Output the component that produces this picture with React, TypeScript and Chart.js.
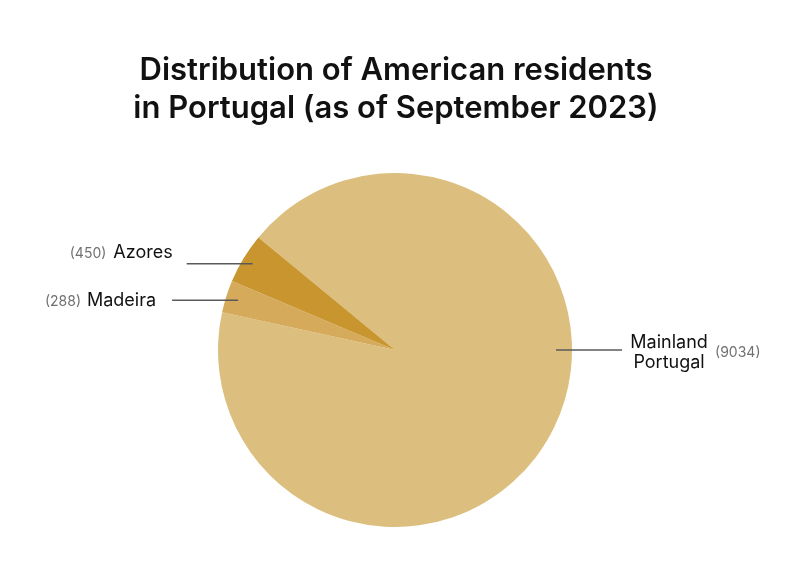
import React, { useEffect, useRef } from "react";
import { Chart, registerables } from "chart.js";

Chart.register(...registerables);

const categories = ["Mainland Portugal", "Madeira", "Azores"];
const residents = [9034, 288, 450];
const sliceColors = ["#DCBF7E", "#D5AB5B", "#C8952F"];
const titleLines = ["Distribution of American residents", "in Portugal (as of September 2023)"];

export default function App() {
  const ref = useRef<HTMLCanvasElement | null>(null);
  useEffect(() => {
    if (!ref.current) return;
    const labelPlugin = {
      id: "labels",
      afterDraw(chart: any) {
        const ctx = chart.ctx;
        ctx.save();
        // Title
        ctx.fillStyle = "#111111";
        ctx.font = "600 31px Inter";
        ctx.textAlign = "center";
        ctx.textBaseline = "alphabetic";
        ctx.fillText(titleLines[0], 396, 80);
        ctx.fillText(titleLines[1], 396, 118);

        const meta = chart.getDatasetMeta(0);
        const arc0 = meta.data[0];
        const cx = arc0.x, cy = arc0.y, r = arc0.outerRadius;
        const pt = (deg: number, f: number) => {
          const a = (deg * Math.PI) / 180;
          return [cx + Math.cos(a) * r * f, cy + Math.sin(a) * r * f];
        };
        const mid = (i: number) => {
          const el = meta.data[i];
          return ((el.startAngle + el.endAngle) / 2) * 180 / Math.PI;
        };
        ctx.strokeStyle = "#5a5a5a";
        ctx.lineWidth = 1.5;
        const drawLine = (x1: number, y1: number, x2: number) => {
          ctx.beginPath();
          ctx.moveTo(x1, y1);
          ctx.lineTo(x2, y1);
          ctx.stroke();
        };
        // Azores (index 2)
        const [ax, ay] = pt(mid(2), 0.94);
        drawLine(ax, ay, ax - 66);
        ctx.textAlign = "right";
        ctx.fillStyle = "#111111";
        ctx.font = "400 18px Inter";
        ctx.fillText(categories[2], ax - 80, ay - 6);
        const aw = ctx.measureText(categories[2]).width;
        ctx.fillStyle = "#707070";
        ctx.font = "400 14px Inter";
        ctx.fillText("(" + residents[2] + ")", ax - 80 - aw - 7, ay - 6);
        // Madeira (index 1)
        const [mx, my] = pt(mid(1), 0.93);
        drawLine(mx, my, mx - 66);
        ctx.fillStyle = "#111111";
        ctx.font = "400 18px Inter";
        ctx.fillText(categories[1], mx - 82, my + 6);
        const mw = ctx.measureText(categories[1]).width;
        ctx.fillStyle = "#707070";
        ctx.font = "400 14px Inter";
        ctx.fillText("(" + residents[1] + ")", mx - 82 - mw - 6, my + 6);
        // Mainland (index 0)
        const [px, py] = pt(0, 0.91);
        drawLine(px, py, px + 66);
        ctx.textAlign = "center";
        ctx.fillStyle = "#111111";
        ctx.font = "400 18px Inter";
        ctx.fillText("Mainland", px + 113, py - 2);
        ctx.fillText("Portugal", px + 113, py + 18);
        ctx.textAlign = "left";
        ctx.fillStyle = "#707070";
        ctx.font = "400 14px Inter";
        ctx.fillText("(" + residents[0] + ")", px + 159, py + 7);
        ctx.restore();
      },
    };
    const chart = new Chart(ref.current, {
      type: "pie",
      data: {
        labels: categories,
        datasets: [
          {
            data: residents,
            backgroundColor: sliceColors,
            borderWidth: 0,
          },
        ],
      },
      options: {
        animation: false,
        responsive: false,
        rotation: 309.5,
        layout: { padding: { top: 173, bottom: 49, left: 100, right: 110 } },
        plugins: {
          legend: { display: false },
          tooltip: { enabled: false },
          title: { display: false },
        },
      },
      plugins: [labelPlugin],
    });
    return () => chart.destroy();
  }, []);
  return (
    <div style={{ position: "absolute", left: 0, top: 0, width: 800, height: 576, background: "#fff" }}>
      <canvas ref={ref} width={800} height={576} style={{ width: 800, height: 576, display: "block" }} />
    </div>
  );
}
